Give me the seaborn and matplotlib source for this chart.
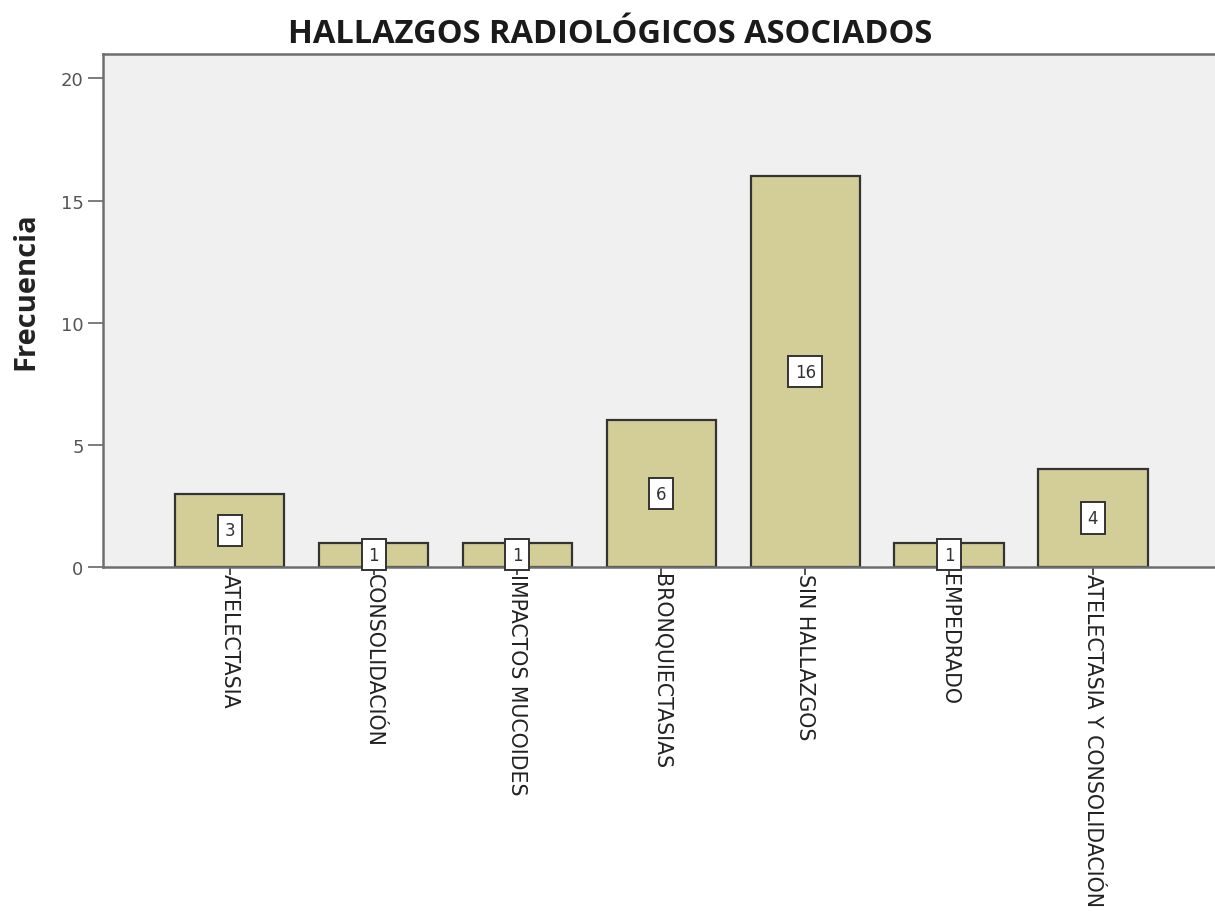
import matplotlib
matplotlib.use("Agg")
import matplotlib.pyplot as plt
import seaborn as sns
import pandas as pd

# Frequencies of associated radiological findings
categorias = [
    "ATELECTASIA",
    "CONSOLIDACIÓN",
    "IMPACTOS MUCOIDES",
    "BRONQUIECTASIAS",
    "SIN HALLAZGOS",
    "EMPEDRADO",
    "ATELECTASIA Y CONSOLIDACIÓN",
]
frecuencias = [3, 1, 1, 6, 16, 1, 4]
ticks_y = [0, 5, 10, 15, 20]

df = pd.DataFrame({"hallazgo": categorias, "frecuencia": frecuencias})

sns.set_theme(style="white")
plt.rcParams["font.family"] = ["DejaVu Sans"]

fig = plt.figure(figsize=(12.15, 9.20), dpi=100)
ax = fig.add_axes([0.0848, 0.3826, 0.919, 0.5576])
ax.set_facecolor("#f0f0f0")

sns.barplot(
    data=df, x="hallazgo", y="frecuencia", ax=ax,
    color="#d3ce97", saturation=1, width=0.76,
    edgecolor="#333333", linewidth=1.6,
)

ax.set_xlim(-0.88, 6.88)
ax.set_ylim(0, 21)
ax.set_yticks(ticks_y)
ax.set_yticklabels([str(t) for t in ticks_y], fontsize=13, color="#555555")

ax.set_xticks(range(len(categorias)))
ax.set_xticklabels(categorias, rotation=270, ha="center", va="top",
                   fontsize=14.8, color="#222222")

ax.tick_params(axis="y", direction="out", length=11, width=1.2,
               color="#666666", left=True, pad=3)
ax.tick_params(axis="x", direction="inout", length=12, width=1.2,
               color="#333333", bottom=True, pad=-2)

for side in ["left", "bottom", "top", "right"]:
    ax.spines[side].set_color("#6e6e6e")
    ax.spines[side].set_linewidth(1.8)

# value labels in white boxes at mid-height of each bar
for i, v in enumerate(frecuencias):
    ax.text(i, v / 2, str(v), ha="center", va="center", fontsize=12,
            color="#333333",
            bbox=dict(boxstyle="square,pad=0.4", fc="white", ec="#333333", lw=1.4))

ax.set_xlabel("")
ax.set_ylabel("Frecuencia", fontsize=21, fontweight="bold",
              family=["Open Sans", "DejaVu Sans"], color="#222222")
ax.yaxis.set_label_coords(-0.056, 0.54)

fig.text(0.502, 0.963, "HALLAZGOS RADIOLÓGICOS ASOCIADOS", fontsize=23.5,
         fontweight="bold", family=["Open Sans", "DejaVu Sans"],
         color="#1a1a1a", ha="center", va="center")

fig.savefig("out.png", dpi=100, facecolor="white")
